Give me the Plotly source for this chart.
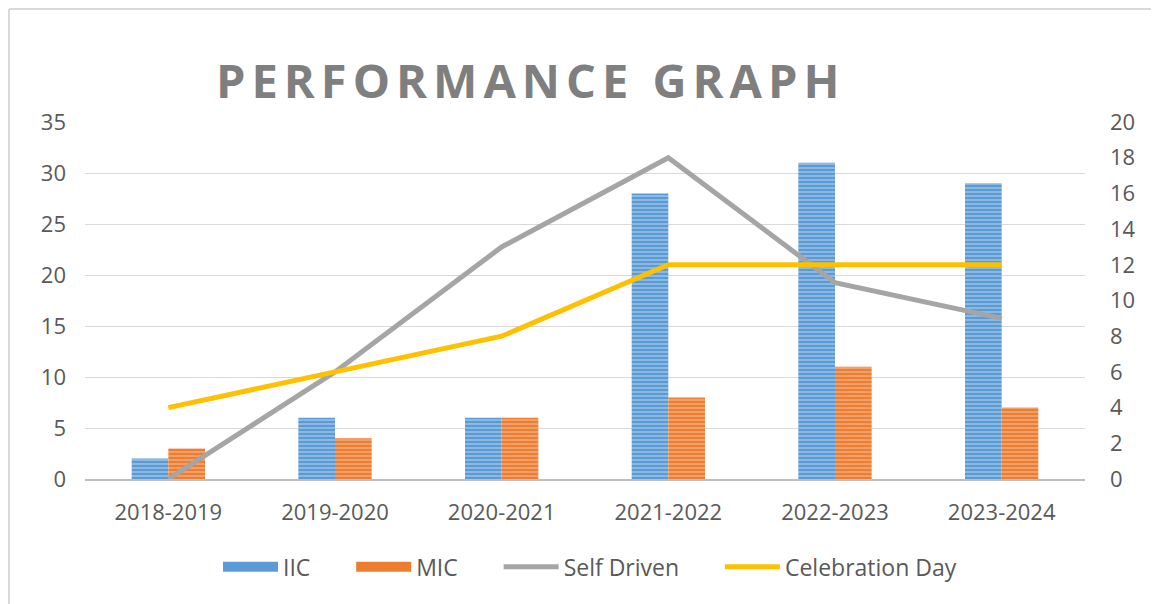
import plotly.graph_objects as go

categories = ["2018-2019", "2019-2020", "2020-2021", "2021-2022", "2022-2023", "2023-2024"]
iic = [2, 6, 6, 28, 31, 29]
mic = [3, 4, 6, 8, 11, 7]
self_driven = [0, 6, 13, 18, 11, 9]
celebration_day = [4, 6, 8, 12, 12, 12]

FONT = "Open Sans"
TXT = "#595959"
BLUE, ORANGE, GRAY, YELLOW = "#5b9bd5", "#ed7d31", "#a5a5a5", "#ffc000"
NB = "\u00a0"

fig = go.Figure()
fig.add_trace(go.Bar(
    x=categories, y=iic, name="IIC", showlegend=False, legendgroup="iic",
    marker=dict(color=BLUE, line=dict(width=0),
                pattern=dict(shape="-", fgcolor="#c9def2", size=4, solidity=0.45, fillmode="overlay")),
))
fig.add_trace(go.Bar(
    x=categories, y=mic, name="MIC", showlegend=False, legendgroup="mic",
    marker=dict(color=ORANGE, line=dict(width=0),
                pattern=dict(shape="-", fgcolor="#f8cbad", size=4, solidity=0.45, fillmode="overlay")),
))
# legend-only entries for the bars (wide swatches like the reference)
fig.add_trace(go.Scatter(x=[None], y=[None], name="IIC" + NB * 6, mode="lines", legendgroup="iic",
                         line=dict(color=BLUE, width=10)))
fig.add_trace(go.Scatter(x=[None], y=[None], name="MIC" + NB * 6, mode="lines", legendgroup="mic",
                         line=dict(color=ORANGE, width=10)))
fig.add_trace(go.Scatter(
    x=categories, y=self_driven, name="Self Driven" + NB * 6, yaxis="y2", mode="lines",
    line=dict(color=GRAY, width=5),
))
fig.add_trace(go.Scatter(
    x=categories, y=celebration_day, name="Celebration Day", yaxis="y2", mode="lines",
    line=dict(color=YELLOW, width=5),
))

fig.update_layout(
    width=1151, height=596,
    margin=dict(l=77, r=74, t=114, b=125),
    paper_bgcolor="white", plot_bgcolor="white",
    barmode="group", bargap=0.56, bargroupgap=0,
    font=dict(family=FONT, color=TXT, size=22),
    showlegend=True,
    legend=dict(orientation="h", x=0.505, xanchor="center", y=-0.246, yanchor="middle",
                font=dict(size=23, color=TXT), traceorder="normal", itemwidth=55),
    xaxis=dict(showgrid=False, showline=True, linecolor="#bfbfbf", linewidth=2,
               ticks="", tickfont=dict(size=22, color=TXT), ticklabelstandoff=13),
    yaxis=dict(range=[0, 35], dtick=5, showgrid=True, gridcolor="#d9d9d9", gridwidth=1,
               zeroline=False, showline=False, ticks="", tickfont=dict(size=22, color=TXT),
               ticklabelstandoff=18),
    yaxis2=dict(range=[0, 20], dtick=2, overlaying="y", side="right", showgrid=False,
                zeroline=False, showline=False, ticks="", tickfont=dict(size=22, color=TXT),
                ticklabelstandoff=24),
    annotations=[dict(text="<span style=\"letter-spacing:6px\"><b>PERFORMANCE GRAPH</b></span>",
                      x=(531 - 85) / 1000, y=(479 - 80) / 357,
                      xref="paper", yref="paper", xanchor="center", yanchor="middle",
                      showarrow=False, font=dict(size=47, color="#7f7f7f", family=FONT))],
    shapes=[
        dict(type="line", xref="paper", yref="paper", x0=-0.076, x1=1.08,
             y0=(471 - 1) / 357, y1=(471 - 1) / 357, line=dict(color="#d9d9d9", width=2)),
        dict(type="line", xref="paper", yref="paper", x0=-0.076, x1=-0.076,
             y0=(471 - 1) / 357, y1=-0.35, line=dict(color="#d9d9d9", width=2)),
    ],
)

fig.write_html("out.html")
